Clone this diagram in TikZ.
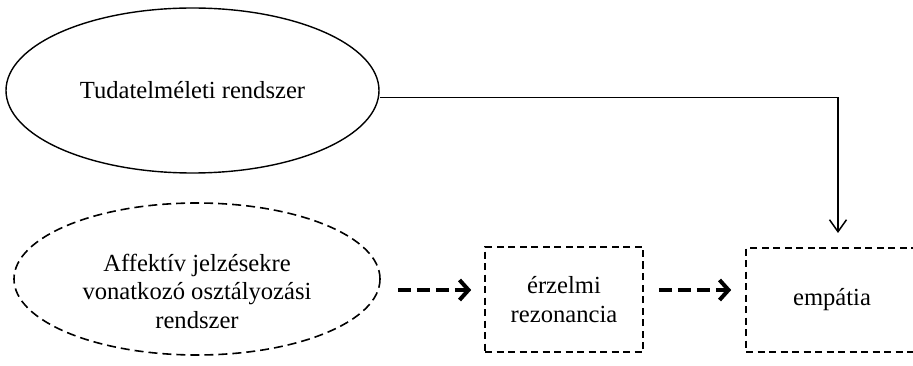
\documentclass[tikz,border=0pt]{standalone}
\usepackage{fontspec}
\setmainfont{Liberation Serif}
\usetikzlibrary{shapes.geometric,arrows.meta}
\begin{document}
\begin{tikzpicture}[x=1pt,y=-1pt,
  every node/.style={font=\fontsize{24.6}{28.5}\selectfont, inner sep=0pt},
  ell/.style={ellipse, draw, line width=1.4pt},
  dbox/.style={rectangle, draw, line width=1.6pt, dash pattern=on 7pt off 4.5pt},
  dell/.style={ell, line width=1.6pt, dash pattern=on 9pt off 5pt},
  thickarrow/.style={line width=4pt, dash pattern=on 13pt off 6pt,
    -{Straight Barb[length=9pt,width=20pt]}},
  thinarrow/.style={line width=1.5pt, -{Straight Barb[length=12pt,width=17pt]}}
]
\useasboundingbox (0,0) rectangle (913,366);
\node[ell, minimum width=373pt, minimum height=165pt] (tud) at (192.5,90.5) {Tudatelméleti rendszer};
\node[dell, minimum width=366pt, minimum height=152pt,
  label={[align=center, yshift=-12pt]center:Affektív jelzésekre\\vonatkozó osztályozási\\rendszer}] (aff) at (197,279) {};
\node[dbox, align=center, minimum width=158pt, minimum height=105pt] (erz) at (564,299.5) {érzelmi\\rezonancia};
\node[dbox, minimum width=172pt, minimum height=104pt] (emp) at (832,300) {empátia};
\draw[thickarrow] ([xshift=17pt,yshift=-11pt]aff.east) -- ([xshift=-13pt,yshift=9.5pt]erz.west);
\draw[thickarrow] ([xshift=15pt]erz.east |- 0,290) -- ([xshift=-14pt]emp.west |- 0,290);
\coordinate (tip) at (838,233);
\draw[thinarrow] ([yshift=-7pt]tud.east) -| (tip);
\end{tikzpicture}
\end{document}
